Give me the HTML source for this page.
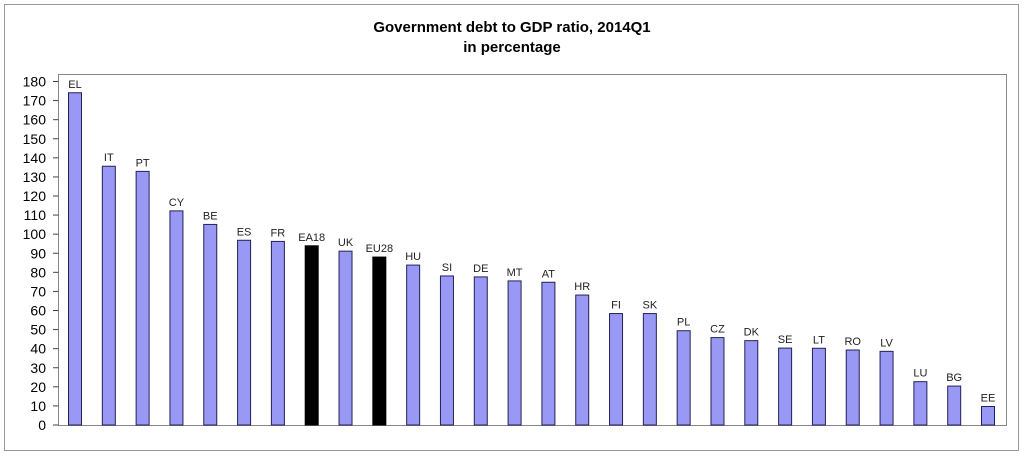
<!DOCTYPE html>
<html><head><meta charset="utf-8"><style>
body{margin:0;background:#fff;font-family:"Liberation Sans",Arial,sans-serif}
svg{display:block}
</style></head><body>
<svg id="chart" width="1024" height="456" viewBox="0 0 1024 456" xmlns="http://www.w3.org/2000/svg">
<rect x="4.5" y="4.5" width="1014" height="446" fill="#fff" stroke="#999"/>
<text x="512" y="32" text-anchor="middle" font-size="15" font-weight="bold" font-family="Liberation Sans, sans-serif">Government debt to GDP ratio, 2014Q1</text>
<text x="512" y="52" text-anchor="middle" font-size="15" font-weight="bold" font-family="Liberation Sans, sans-serif">in percentage</text>
<rect x="58.5" y="74.5" width="948" height="351" fill="#fff" stroke="#888"/>
<g id="axis"></g><g id="bars"></g>
</svg>
<script>
const categories=["EL","IT","PT","CY","BE","ES","FR","EA18","UK","EU28","HU","SI","DE","MT","AT","HR","FI","SK","PL","CZ","DK","SE","LT","RO","LV","LU","BG","EE"];
const values=[174.1,135.6,132.9,112.2,105.1,96.8,96.2,93.9,91.1,88.0,83.8,78.1,77.6,75.5,74.8,68.1,58.4,58.4,49.4,45.8,44.2,40.3,40.2,39.3,38.6,22.7,20.4,9.7];
const aggregates=["EA18","EU28"];
const yTicks=[0,10,20,30,40,50,60,70,80,90,100,110,120,130,140,150,160,170,180];
const NS="http://www.w3.org/2000/svg";
const y0=425,y180=81.5;
function yScale(v){return y0-(v/180)*(y0-y180);}
function xScale(i){return 75+i*(988-75)/(categories.length-1);}
const ax=document.getElementById('axis');
yTicks.forEach(t=>{
 const y=yScale(t);
 const l=document.createElementNS(NS,'line');
 
 
 l.setAttribute('x1',53);l.setAttribute('x2',58.5);l.setAttribute('y1',y);l.setAttribute('y2',y);l.setAttribute('stroke','#444');
 ax.appendChild(l);
 const tx=document.createElementNS(NS,'text');
 
 
 tx.setAttribute('x',46);tx.setAttribute('y',y+5);tx.setAttribute('text-anchor','end');tx.setAttribute('font-size','14');
 tx.textContent=t;ax.appendChild(tx);
});
const bg=document.getElementById('bars');
categories.forEach((c,i)=>{
 const x=xScale(i),y=yScale(values[i]);
 const r=document.createElementNS(NS,'rect');
 
 
 const agg=aggregates.includes(c);
 r.setAttribute('x',x-6.5);r.setAttribute('y',y);r.setAttribute('width',13);r.setAttribute('height',y0-y);
 r.setAttribute('fill',agg?'#000':'#9999f5');r.setAttribute('stroke',agg?'#000':'#222255');r.setAttribute('stroke-width','1');
 bg.appendChild(r);
 const tx=document.createElementNS(NS,'text');
 
 
 tx.setAttribute('x',x);tx.setAttribute('y',y-5);tx.setAttribute('text-anchor','middle');tx.setAttribute('font-size','11');tx.setAttribute('fill','#222');
 tx.textContent=c;bg.appendChild(tx);
});
</script>
</body></html>
